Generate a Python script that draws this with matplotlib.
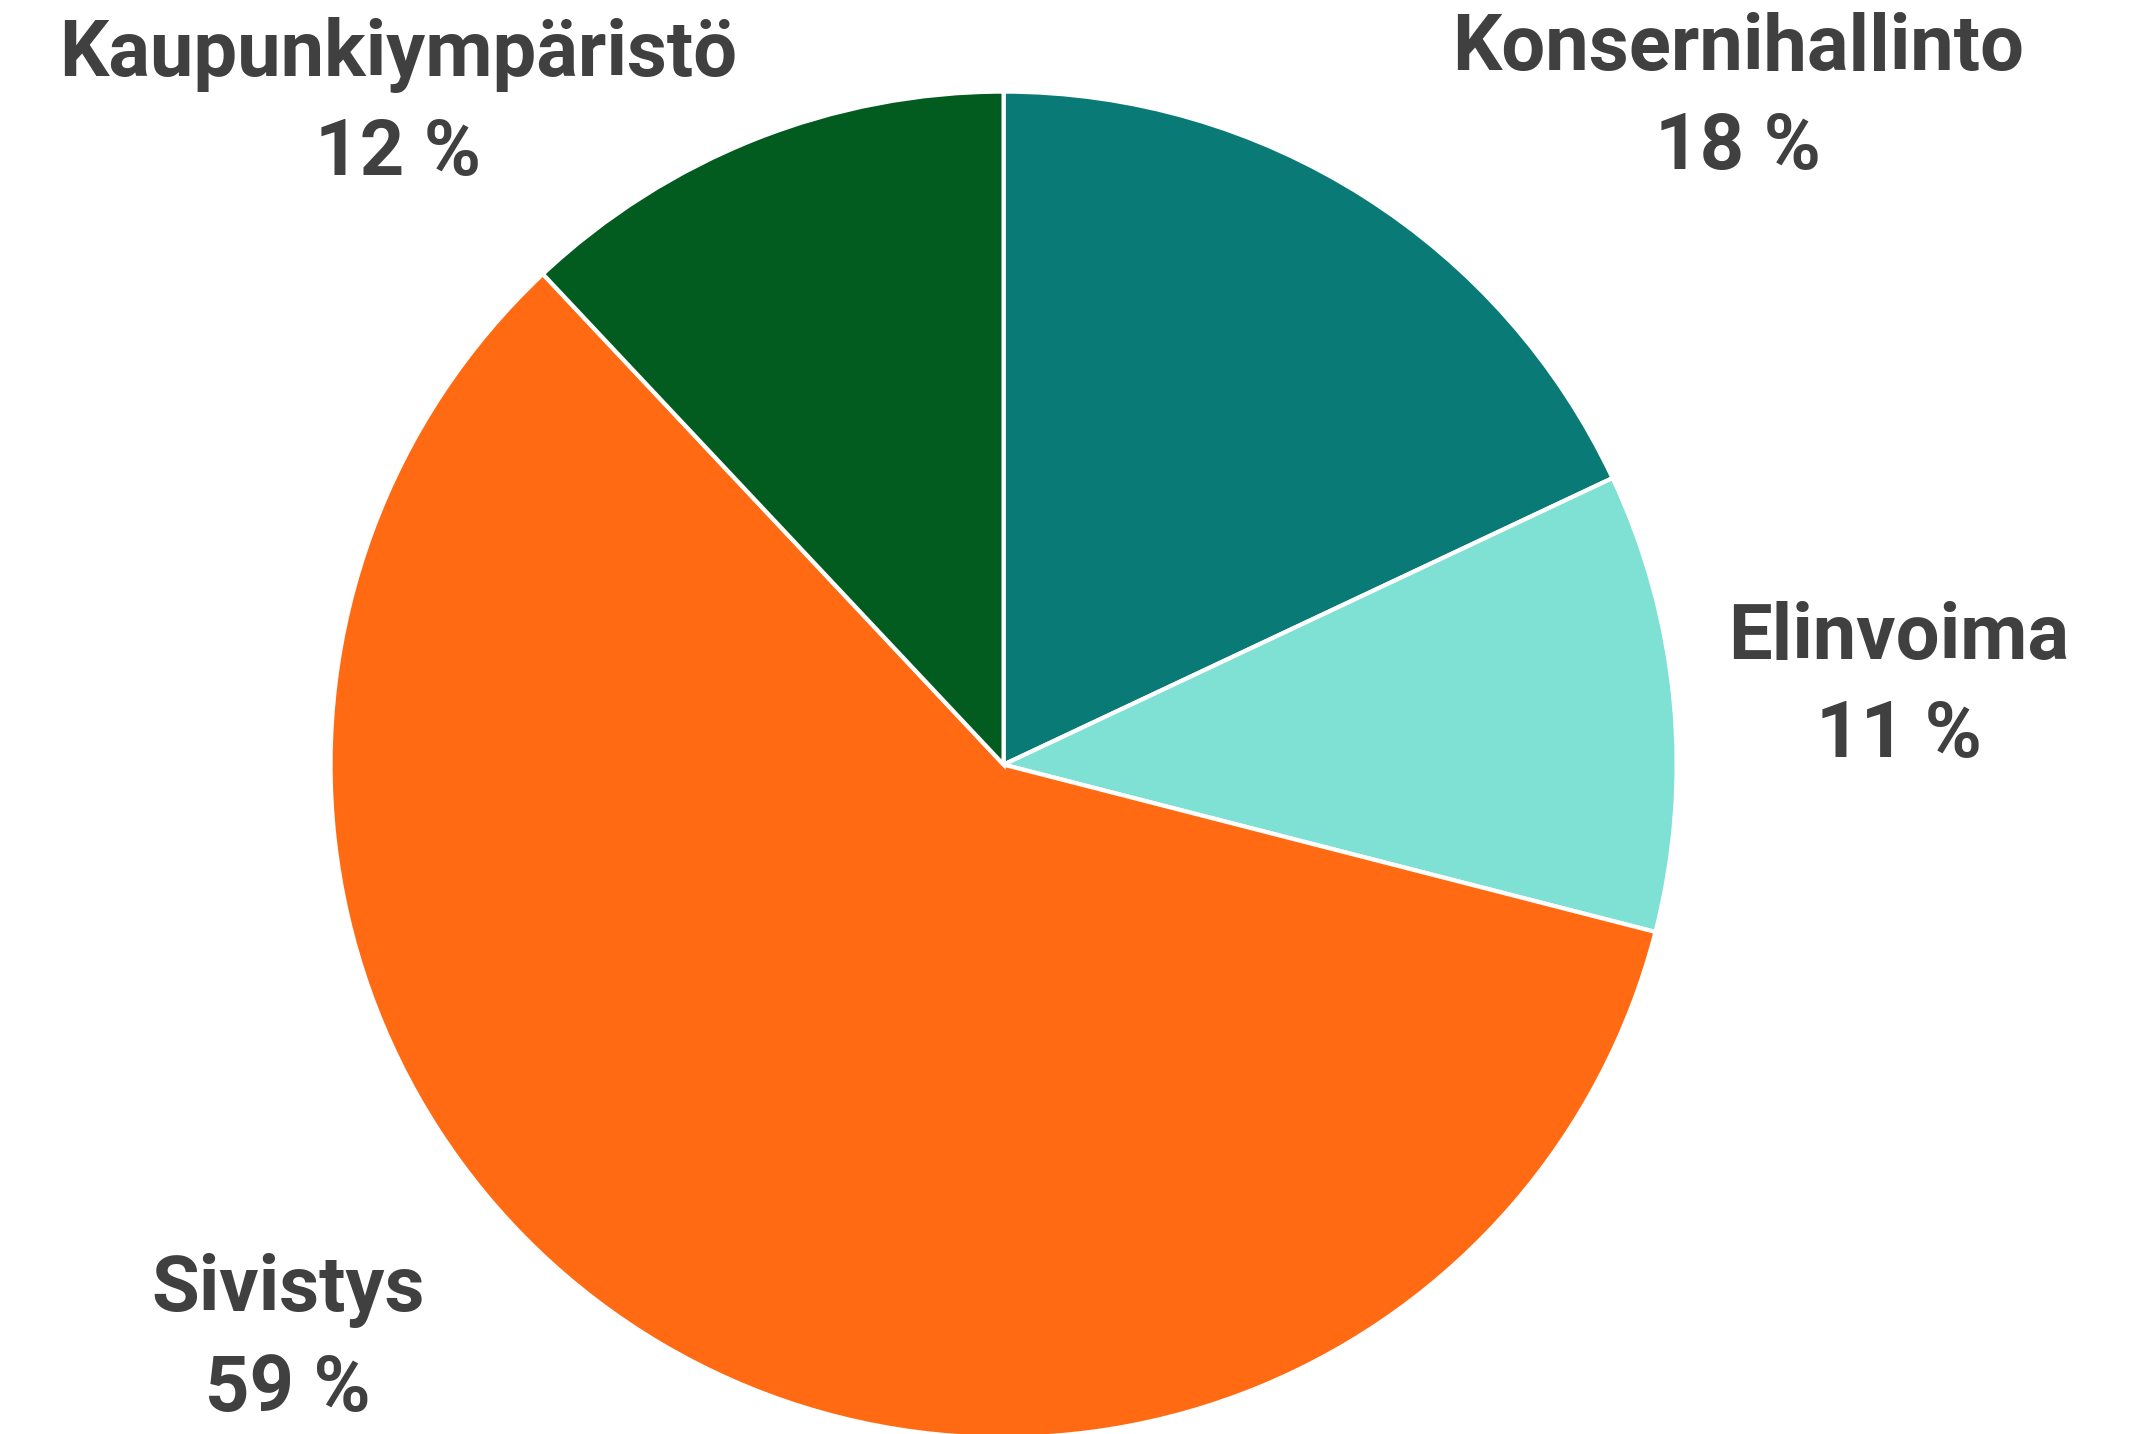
import matplotlib.pyplot as plt

# Data
categories = ["Konsernihallinto", "Elinvoima", "Sivistys", "Kaupunkiympäristö"]
shares = [18, 11, 59, 12]
colors = ["#0A7A76", "#7FE0D4", "#FF6A13", "#025C20"]

# label positions (data coords, pie radius = 1)
label_pos = [(1.091, 0.99), (1.330, 0.115), (-1.063, -0.855), (-0.900, 0.982)]

fig = plt.figure(figsize=(21.41, 14.34), dpi=100)
ax = fig.add_axes([0.1544, -0.0025, 0.6287, 0.9386])

ax.pie(shares, colors=colors, startangle=90, counterclock=False, radius=1,
       wedgeprops=dict(edgecolor="white", linewidth=3))

for cat, val, (x, y) in zip(categories, shares, label_pos):
    ax.text(x, y, f"{cat}\n{val} %", ha="center", va="center",
            fontsize=56, fontweight="bold", family="Roboto", color="#404040",
            linespacing=1.42, clip_on=False)

ax.set_xlim(-1, 1)
ax.set_ylim(-1, 1)
ax.set_aspect("auto")
ax.axis("off")

fig.savefig("out.png", dpi=100)
